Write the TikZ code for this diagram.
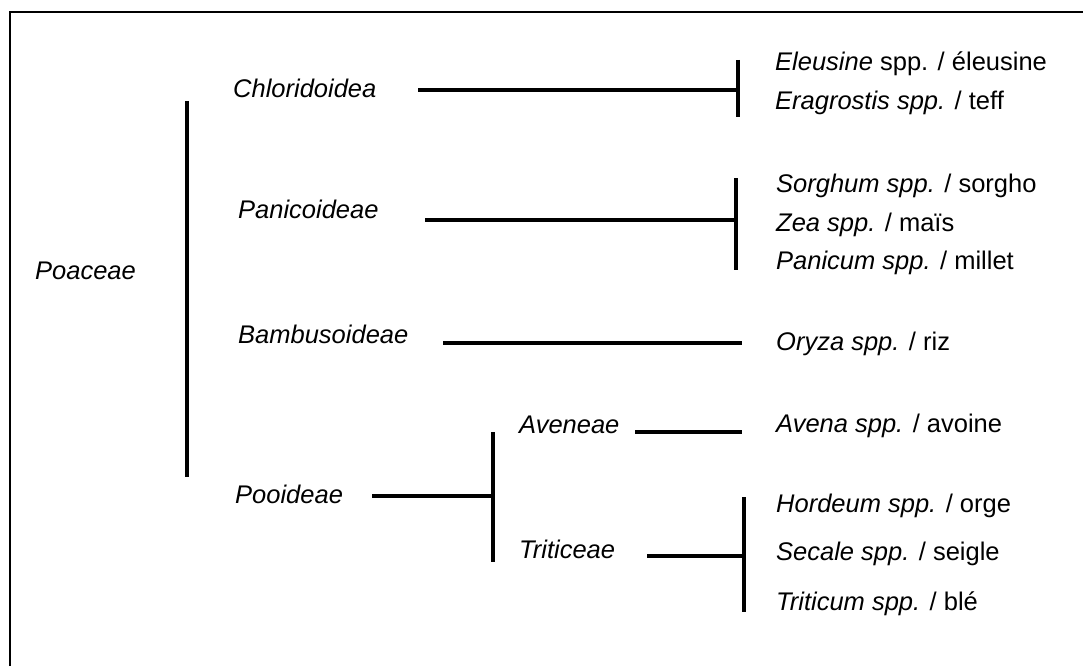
\documentclass[tikz,border=0pt]{standalone}
\usepackage{fontspec}
\setmainfont{Liberation Sans}
\begin{document}
\begin{tikzpicture}[x=1pt,y=-1pt,
  taxon/.style={anchor=base west, inner sep=0pt, font=\fontsize{25.5}{30}\selectfont\itshape},
  crop/.style={anchor=base west, inner sep=0pt, font=\fontsize{25.5}{30}\selectfont},
  branch/.style={line width=3.5pt}]
\useasboundingbox (0,0) rectangle (1083,666);
\draw[line width=2pt] (10,666) -- (10,12) -- (1083,12);
% family and subfamilies
\node[taxon] (poaceae) at (35,279) {Poaceae};
\node[taxon] (chlor) at (233,98) {Chloridoidea};
\node[taxon] (panic) at (238,218) {Panicoideae};
\node[taxon] (bambu) at (238,343) {Bambusoideae};
\node[taxon] (pooid) at (235,503) {Pooideae};
\node[taxon] (avene) at (519,433) {Aveneae};
\node[taxon] (tritic) at (519,558) {Triticeae};
% cultivated species
\node[crop] (eleus) at (775,71) {\textit{Eleusine} spp. / éleusine};
\node[crop] (eragr) at (775,110) {\textit{Eragrostis spp.}\/ / teff};
\node[crop] (sorgh) at (776,192) {\textit{Sorghum spp.} / sorgho};
\node[crop] (zea) at (776,231) {\textit{Zea spp.} / maïs};
\node[crop] (panicum) at (776,269) {\textit{Panicum spp.} / millet};
\node[crop] (oryza) at (776,350) {\textit{Oryza spp.} / riz};
\node[crop] (avena) at (776,432) {\textit{Avena spp.} / avoine};
\node[crop] (hord) at (776,512) {\textit{Hordeum spp.} / orge};
\node[crop] (secale) at (776,560) {\textit{Secale spp.} / seigle};
\node[crop] (trit) at (776,610) {\textit{Triticum spp.} / blé};
% branch points
\coordinate (poa-top) at (187,101);
\coordinate (poa-bot) at (187,477);
\coordinate (chlor-out) at (418,90);
\coordinate (chlor-bar) at (738,90);
\coordinate (chlor-top) at (738,60);
\coordinate (chlor-bot) at (738,117);
\coordinate (panic-out) at (425,220);
\coordinate (panic-bar) at (736,220);
\coordinate (panic-top) at (736,178);
\coordinate (panic-bot) at (736,270);
\coordinate (bambu-out) at (443,343);
\coordinate (bambu-end) at (742,343);
\coordinate (pooid-out) at (372,496);
\coordinate (pooid-bar) at (493,496);
\coordinate (pooid-top) at (493,432);
\coordinate (pooid-bot) at (493,562);
\coordinate (avene-out) at (635,432);
\coordinate (avene-end) at (742,432);
\coordinate (tritic-out) at (647,556);
\coordinate (tritic-bar) at (744,556);
\coordinate (tritic-top) at (744,497);
\coordinate (tritic-bot) at (744,612);
\draw[branch] (poa-top) -- (poa-bot);
\draw[branch] (chlor-out) -- (chlor-bar);
\draw[branch] (chlor-top) -- (chlor-bot);
\draw[branch] (panic-out) -- (panic-bar);
\draw[branch] (panic-top) -- (panic-bot);
\draw[branch] (bambu-out) -- (bambu-end);
\draw[branch] (pooid-out) -- (pooid-bar);
\draw[branch] (pooid-top) -- (pooid-bot);
\draw[branch] (avene-out) -- (avene-end);
\draw[branch] (tritic-out) -- (tritic-bar);
\draw[branch] (tritic-top) -- (tritic-bot);
\end{tikzpicture}
\end{document}
